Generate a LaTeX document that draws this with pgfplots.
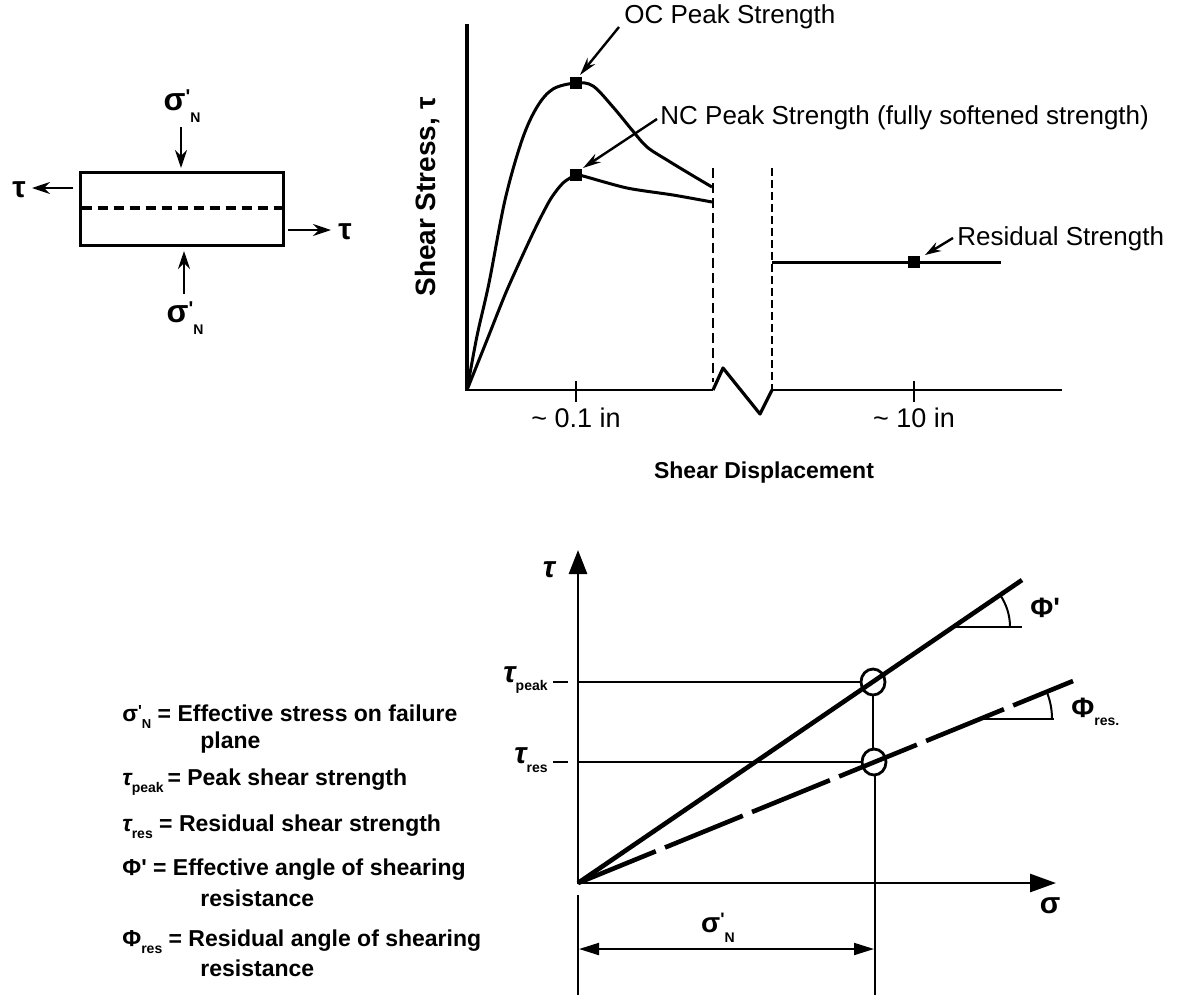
\documentclass[border=0pt]{standalone}
\usepackage{fontspec}
\setmainfont{Liberation Sans}
\usepackage{pgfplots}
\pgfplotsset{compat=1.18}
\usetikzlibrary{arrows.meta}
\newcommand\fs[1]{\fontsize{#1}{#1}\selectfont}
\newcommand\sub[2]{{#1}\raisebox{-0.55ex}{\fs{7}#2}}
\newcommand\pr{\textquotesingle}
\begin{document}
\begin{tikzpicture}
\path (0,0) rectangle (593pt,498pt);
\begin{axis}[at={(0,0)},anchor=south west,scale only axis,width=593pt,height=498pt,
  xmin=0,xmax=1186,ymin=0,ymax=996,y dir=reverse,axis lines=none,clip=false]

% ---------------- specimen sketch ----------------
\draw[line width=1.5pt] (80,172) rectangle (283,245);
\draw[line width=1.6pt,dash pattern=on 5pt off 3pt] (82,208) -- (283,208);
\draw[line width=1.2pt,-{Stealth[length=9pt,width=6pt]}] (181,127) -- (181,168);
\draw[line width=1.2pt,-{Stealth[length=9pt,width=6pt]}] (184,294) -- (184,251);
\draw[line width=1.2pt,-{Stealth[length=9pt,width=6pt]}] (73,188) -- (32,188);
\draw[line width=1.2pt,-{Stealth[length=9pt,width=6pt]}] (288,230) -- (331,230);
\node[inner sep=0pt] at (182,106) {\bfseries\fs{16}σ\raisebox{0.45ex}{\fs{10}\pr}\raisebox{-0.7ex}{\fs{7}N}};
\node[inner sep=0pt] at (185,318) {\bfseries\fs{16}σ\raisebox{0.45ex}{\fs{10}\pr}\raisebox{-0.7ex}{\fs{7}N}};
\node at (19,190) {\bfseries\fs{15}τ};
\node at (345,232) {\bfseries\fs{15}τ};

% ---------------- shear stress vs displacement ----------------
\draw[line width=2pt] (467,24) -- (467,391);
\draw[line width=1pt] (466,390) -- (713,390);
\draw[line width=1.6pt,line join=round] (713,390) -- (723,368) -- (760,414) -- (772,390);
\draw[line width=1pt] (772,390) -- (1062,390);
\draw[line width=1pt] (576,381) -- (576,402);
\draw[line width=1pt] (914,381) -- (914,402);
\draw[line width=1.3pt,dash pattern=on 5pt off 2.5pt] (713,168) -- (713,382);
\draw[line width=0.8pt,dash pattern=on 4pt off 2pt] (772,168) -- (772,390);

% OC (overconsolidated) curve
\addplot[line width=1.5pt,smooth,tension=0.55,no marks] coordinates {
 (467,390) (477,336) (489,283) (505,200) (522,140) (537,107) (553,89) (576,83)
 (593,86) (613,107) (632,130) (647,147) (667,160) (690,174) (712,187)};
% NC (normally consolidated) curve
\addplot[line width=1.5pt,smooth,tension=0.45,no marks] coordinates {
 (467,390) (487,340) (507,290) (533,233) (550,200) (563,183) (576,175)
 (583,176) (627,188) (673,195) (712,202)};
% residual strength
\addplot[line width=1.5pt,no marks] coordinates {(772,262) (1001,262)};
% strength points
\addplot[only marks,mark=square*,mark size=2.6pt] coordinates {(576,83) (576,175) (914,262)};

\draw[line width=1.2pt,-{Stealth[length=9pt,width=5pt]}] (619,27) -- (580,75);
\draw[line width=1.2pt,-{Stealth[length=9pt,width=5pt]}] (657,119) -- (583,168);
\draw[line width=1.2pt,-{Stealth[length=8pt,width=5pt]}] (953,238) -- (925,255);
\node[anchor=west,inner sep=0pt] at (624,17) {\fs{13}OC Peak Strength};
\node[anchor=west,inner sep=0pt] at (660,118) {\fs{13}NC Peak Strength (fully softened strength)};
\node[anchor=west,inner sep=0pt] at (957,239) {\fs{13}Residual Strength};
\node at (576,418) {\fs{13.5}\textasciitilde{} 0.1 in};
\node at (914,418) {\fs{13.5}\textasciitilde{} 10 in};
\node at (764,473) {\bfseries\fs{11.5}Shear Displacement};
\node[rotate=90] at (428,197) {\bfseries\fs{14}Shear Stress, τ};

% ---------------- failure envelopes ----------------
\draw[line width=1.4pt,-{Triangle[length=12pt,width=9pt]}] (578,884) -- (578,550);
\draw[line width=1.4pt,-{Triangle[length=13pt,width=9pt]}] (577,883) -- (1056,883);
\node at (549,570) {\bfseries\itshape\fs{15}τ};
\node at (1050,906) {\bfseries\fs{15}σ};

% peak envelope
\addplot[line width=2.3pt,no marks] coordinates {(578,883) (1022,580)};
% residual envelope
\addplot[line width=2.3pt,no marks,dash pattern=on 42pt off 5pt] coordinates {(578,883) (1073,681)};

\draw[line width=0.7pt] (553,682) -- (568,682);
\draw[line width=0.7pt] (578,682) -- (861,682);
\draw[line width=0.7pt] (553,762) -- (568,762);
\draw[line width=0.7pt] (578,762) -- (862,762);
\draw[line width=0.8pt] (873,694) -- (873,750);
\draw[line width=0.6pt] (875,774) -- (875,995);
\draw[line width=1.4pt] (873,682) circle[x radius=6pt,y radius=6.5pt];
\draw[line width=1.4pt] (874,762) circle[x radius=6pt,y radius=6.5pt];

% angle symbols
\draw[line width=1pt] (952,627) -- (1022,627);
\draw[line width=1pt] (1010,627) arc[start angle=0,end angle=34.3,radius=28.5pt];
\node[anchor=west,inner sep=0pt] at (1030,608) {\bfseries\fs{14}Φ\pr};
\draw[line width=1pt] (980,719) -- (1054,719);
\draw[line width=1pt] (1052,719) arc[start angle=0,end angle=22.2,radius=36.5pt];
\node[anchor=west,inner sep=0pt] at (1071,712) {\bfseries\fs{14}\sub{Φ}{res.}};

\node[anchor=east,inner sep=1pt] at (550,680) {\bfseries\fs{15}\sub{\itshape τ}{peak}};
\node[anchor=east,inner sep=1pt] at (550,760) {\bfseries\fs{15}\sub{\itshape τ}{res}};

% dimension
\draw[line width=1pt] (578,895) -- (578,995);
\draw[line width=1pt,{Triangle[length=10pt,width=6pt]}-{Triangle[length=10pt,width=6pt]}] (579,949) -- (874,949);
\node[inner sep=0pt] at (718,928) {\bfseries\fs{14}σ\raisebox{0.45ex}{\fs{9}\pr}\raisebox{-0.7ex}{\fs{7}N}};

% ---------------- key ----------------
\begin{scope}[every node/.style={anchor=west,inner sep=0pt,font=\bfseries\fs{11.5}}]
\node at (122,717) {σ\raisebox{0.45ex}{\fs{8}\pr}\raisebox{-0.6ex}{\fs{6.5}N} = Effective stress on failure};
\node at (200,743) {plane};
\node at (122,782) {\sub{\itshape τ}{peak}\,= Peak shear strength};
\node at (122,827) {\sub{\itshape τ}{res}\ = Residual shear strength};
\node at (122,870) {Φ\pr{} = Effective angle of shearing};
\node at (200,898) {resistance};
\node at (122,942) {\sub{Φ}{res}\ = Residual angle of shearing};
\node at (200,968) {resistance};
\end{scope}
\end{axis}
\end{tikzpicture}
\end{document}
